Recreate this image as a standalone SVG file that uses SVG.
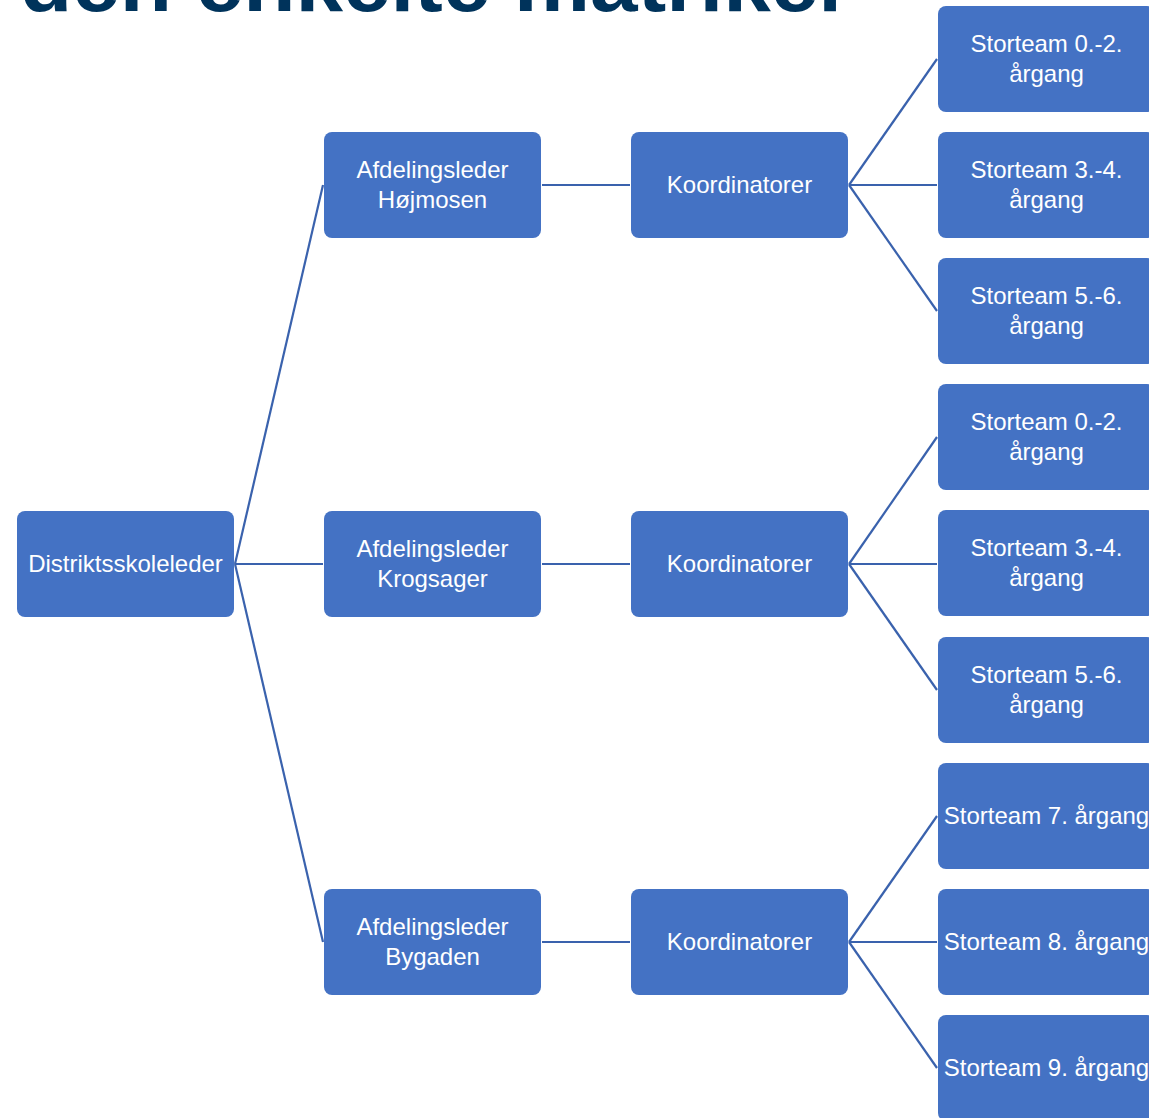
<svg xmlns="http://www.w3.org/2000/svg" width="1149" height="1118" viewBox="0 0 1149 1118">
<style>
.node rect{fill:#4472C4;}
.node text{fill:#ffffff;font-family:"Liberation Sans",Arial,sans-serif;font-size:24px;text-anchor:middle;}
.conn line{stroke:#3A62AD;stroke-width:2.2;fill:none;}
.title{fill:#00335B;font-family:"Liberation Sans",Arial,sans-serif;font-weight:bold;font-size:82px;}
</style>
<rect width="1149" height="1118" fill="#ffffff"/>
<text class="title" x="20" y="11" textLength="822" lengthAdjust="spacingAndGlyphs">den enkelte matrikel</text>
<g id="connectors" class="conn">
<line x1="235" y1="564" x2="323" y2="185"/>
<line x1="235" y1="564" x2="323" y2="564"/>
<line x1="235" y1="564" x2="323" y2="942"/>
<line x1="542" y1="185" x2="630" y2="185"/>
<line x1="542" y1="564" x2="630" y2="564"/>
<line x1="542" y1="942" x2="630" y2="942"/>
<line x1="849" y1="185" x2="937" y2="59"/>
<line x1="849" y1="185" x2="937" y2="185"/>
<line x1="849" y1="185" x2="937" y2="311"/>
<line x1="849" y1="564" x2="937" y2="437"/>
<line x1="849" y1="564" x2="937" y2="564"/>
<line x1="849" y1="564" x2="937" y2="690"/>
<line x1="849" y1="942" x2="937" y2="816"/>
<line x1="849" y1="942" x2="937" y2="942"/>
<line x1="849" y1="942" x2="937" y2="1068"/>
</g>
<g id="n-distrikt" class="node"><rect x="17" y="511" width="217" height="106" rx="8"/><text x="125.5" y="572">Distriktsskoleleder</text></g>
<g id="n-hojmosen" class="node"><rect x="324" y="132" width="217" height="106" rx="8"/><text x="432.5" y="178">Afdelingsleder</text><text x="432.5" y="208">Højmosen</text></g>
<g id="n-krogsager" class="node"><rect x="324" y="511" width="217" height="106" rx="8"/><text x="432.5" y="557">Afdelingsleder</text><text x="432.5" y="587">Krogsager</text></g>
<g id="n-bygaden" class="node"><rect x="324" y="889" width="217" height="106" rx="8"/><text x="432.5" y="935">Afdelingsleder</text><text x="432.5" y="965">Bygaden</text></g>
<g id="n-koord1" class="node"><rect x="631" y="132" width="217" height="106" rx="8"/><text x="739.5" y="193">Koordinatorer</text></g>
<g id="n-koord2" class="node"><rect x="631" y="511" width="217" height="106" rx="8"/><text x="739.5" y="572">Koordinatorer</text></g>
<g id="n-koord3" class="node"><rect x="631" y="889" width="217" height="106" rx="8"/><text x="739.5" y="950">Koordinatorer</text></g>
<g id="n-h02" class="node"><rect x="938" y="6" width="217" height="106" rx="8"/><text x="1046.5" y="52">Storteam 0.-2.</text><text x="1046.5" y="82">årgang</text></g>
<g id="n-h34" class="node"><rect x="938" y="132" width="217" height="106" rx="8"/><text x="1046.5" y="178">Storteam 3.-4.</text><text x="1046.5" y="208">årgang</text></g>
<g id="n-h56" class="node"><rect x="938" y="258" width="217" height="106" rx="8"/><text x="1046.5" y="304">Storteam 5.-6.</text><text x="1046.5" y="334">årgang</text></g>
<g id="n-k02" class="node"><rect x="938" y="384" width="217" height="106" rx="8"/><text x="1046.5" y="430">Storteam 0.-2.</text><text x="1046.5" y="460">årgang</text></g>
<g id="n-k34" class="node"><rect x="938" y="510" width="217" height="106" rx="8"/><text x="1046.5" y="556">Storteam 3.-4.</text><text x="1046.5" y="586">årgang</text></g>
<g id="n-k56" class="node"><rect x="938" y="637" width="217" height="106" rx="8"/><text x="1046.5" y="683">Storteam 5.-6.</text><text x="1046.5" y="713">årgang</text></g>
<g id="n-b7" class="node"><rect x="938" y="763" width="217" height="106" rx="8"/><text x="1046.5" y="824">Storteam 7. årgang</text></g>
<g id="n-b8" class="node"><rect x="938" y="889" width="217" height="106" rx="8"/><text x="1046.5" y="950">Storteam 8. årgang</text></g>
<g id="n-b9" class="node"><rect x="938" y="1015" width="217" height="106" rx="8"/><text x="1046.5" y="1076">Storteam 9. årgang</text></g>
</svg>
